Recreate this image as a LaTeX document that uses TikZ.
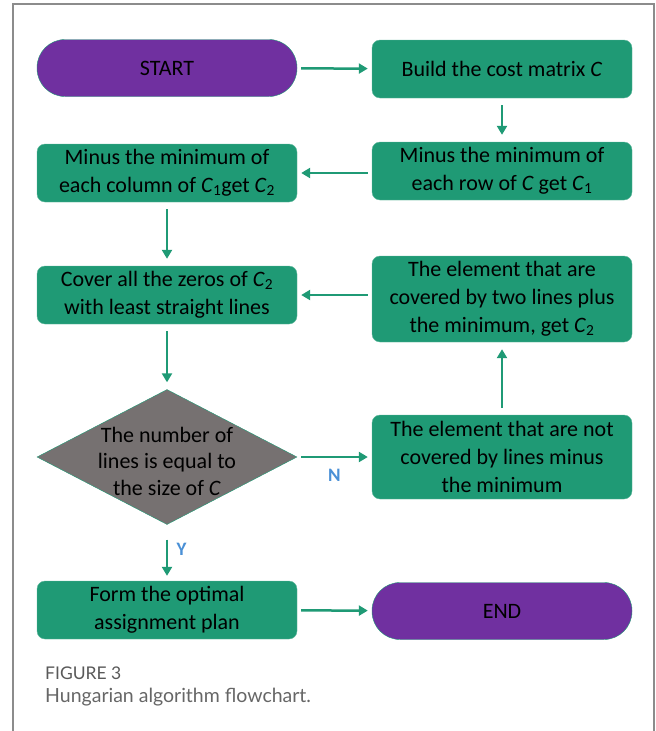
\documentclass[tikz,border=0pt]{standalone}
\usepackage{fontspec}
\setmainfont{Carlito}
\newfontfamily\capfont{Lato}
\usepackage{xcolor}
\usetikzlibrary{arrows.meta,shapes.geometric}
\definecolor{flowgreen}{RGB}{31,154,117}
\definecolor{termpurple}{RGB}{112,48,160}
\definecolor{decgray}{RGB}{118,113,113}
\definecolor{ynblue}{RGB}{74,144,214}
\definecolor{framegray}{RGB}{140,140,140}
\tikzset{
	process/.style={draw=flowgreen!70!white, fill=flowgreen, rounded corners=8pt,
			minimum width=260pt, minimum height=58pt, align=center, inner sep=2pt,
			font=\fontsize{22}{28}\selectfont},
	terminal/.style={draw=flowgreen, fill=termpurple, rounded corners=28pt,
			minimum width=260pt, minimum height=57pt,
			font=\fontsize{22}{28}\selectfont},
	decision/.style={diamond, draw=flowgreen, fill=decgray, minimum width=260pt,
			minimum height=135pt, inner sep=0pt},
	flow/.style={draw=flowgreen, line width=2.5pt, -{Triangle[length=9pt,width=10pt]},
			shorten <=4pt, shorten >=4pt},
	flowv/.style={flow, shorten <=7pt, shorten >=7pt},
	answer/.style={text=ynblue, font=\fontsize{19}{19}\selectfont\bfseries}
}

\begin{document}
\begin{tikzpicture}[x=1pt,y=-1pt]
        \useasboundingbox (0,0) rectangle (656,731);
        \draw[framegray, line width=2pt] (13,731) -- (13,4) -- (654,4) -- (654,731);
        % left column
        \node[terminal] (start) at (167,68) {START};
        \node[process] (mincol) at (167,173) {Minus the minimum of\\each column of \textit{C}\textsubscript{1}get \textit{C}\textsubscript{2}};
        \node[process] (cover) at (167,295) {Cover all the zeros of \textit{C}\textsubscript{2}\\with least straight lines};
        \node[decision] (check) at (167,457) {};
        \node[align=center, font=\fontsize{22}{26.5}\selectfont] (checktext) at (167,461) {The number of\\lines is equal to\\the size of \textit{C}};
        \node[process] (plan) at (167,610) {Form the optimal\\assignment plan};
        % right column
        \node[process] (build) at (502,69) {Build the cost matrix \textit{C}};
        \node[process] (minrow) at (502,171) {Minus the minimum of\\each row of \textit{C} get \textit{C}\textsubscript{1}};
        \node[process, minimum height=86pt] (twolines) at (502,299) {The element that are\\covered by two lines plus\\the minimum, get \textit{C}\textsubscript{2}};
        \node[process, minimum height=84pt] (notcov) at (502,457) {The element that are not\\covered by lines minus\\the minimum};
        \node[terminal] (end) at (502,611) {END};
        % connectors
        \draw[flow] (start) -- (build);
        \draw[flowv] (build) -- (minrow);
        \draw[flow] (minrow.west |- mincol.east) -- (mincol.east);
        \draw[flowv] (mincol) -- (cover);
        \draw[flow] (twolines.west |- cover.east) -- (cover.east);
        \draw[flowv] (cover) -- (check);
        \draw[flow] (check.east) -- node[answer, below=8pt] (no) {N} (notcov.west |- check.east);
        \draw[flowv] (notcov) -- (twolines);
        \draw[flowv, shorten <=15pt, shorten >=5pt] (check) -- node[answer, right=5pt, yshift=3pt] (yes) {Y} (plan);
        \draw[flow] (plan) -- (end);
        % caption
        \node[anchor=west, inner sep=0pt, text=black!65, font=\capfont\fontsize{17.5}{17.5}\selectfont] (figlabel) at (45,673) {FIGURE 3};
        \node[anchor=west, inner sep=0pt, text=black!60, font=\capfont\fontsize{19.5}{19.5}\selectfont] (figtext) at (45,697) {Hungarian algorithm flowchart.};
\end{tikzpicture}
\end{document}
